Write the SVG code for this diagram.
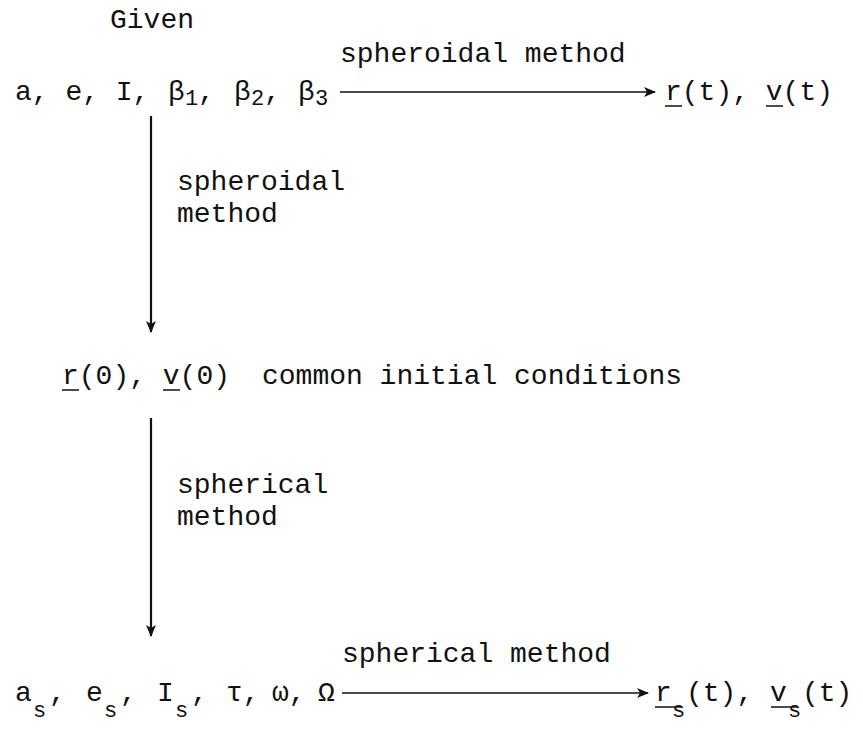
<svg xmlns="http://www.w3.org/2000/svg" width="863" height="730" viewBox="0 0 863 730">
<defs>
<style>
text{font-family:"Liberation Mono","Courier New",monospace;font-size:28px;fill:#111}
.sub{font-size:22px}
.v{stroke:#111;stroke-width:2.2;fill:none}
.h{stroke:#111;stroke-width:1.6;fill:none}
.ul{stroke:#111;stroke-width:1.5}
</style>
<marker id="ah" viewBox="0 0 12 10" markerWidth="12" markerHeight="10" refX="11" refY="5" orient="auto" markerUnits="userSpaceOnUse">
<path d="M0,0 L12,5 L0,10 L3,5 z" fill="#111"/>
</marker>
</defs>
<g id="connectors">
<line class="h" x1="340" y1="92" x2="655" y2="92" marker-end="url(#ah)"/>
<line class="v" x1="151" y1="116" x2="151" y2="332" marker-end="url(#ah)"/>
<line class="v" x1="151" y1="418" x2="151" y2="636" marker-end="url(#ah)"/>
<line class="h" x1="342" y1="693" x2="648" y2="693" marker-end="url(#ah)"/>
<text x="340" y="62">spheroidal method</text>
<text x="177" y="190">spheroidal</text>
<text x="177" y="222">method</text>
<text x="177" y="493">spherical</text>
<text x="177" y="525">method</text>
<text x="342" y="662">spherical method</text>
</g>
<g id="given"><text x="110" y="28">Given</text></g>
<g id="n-elements">
<text x="15" y="100">a, e, I,</text>
<text x="168" y="100">β</text>
<text class="sub" x="185" y="105">1</text>
<text x="198" y="100">,</text>
<text x="234" y="100">β</text>
<text class="sub" x="251" y="105">2</text>
<text x="264" y="100">,</text>
<text x="298" y="100">β</text>
<text class="sub" x="315" y="105">3</text>
</g>
<g id="n-rt">
<text x="665" y="100">r(t), v(t)</text>
<line class="ul" x1="665" y1="106" x2="682" y2="106"/>
<line class="ul" x1="766" y1="106" x2="783" y2="106"/>
</g>
<g id="n-r0">
<text x="62" y="384">r(0), v(0)</text>
<line class="ul" x1="62" y1="390" x2="79" y2="390"/>
<line class="ul" x1="163" y1="390" x2="180" y2="390"/>
<text x="262" y="384">common initial conditions</text>
</g>
<g id="n-spherical">
<text x="15" y="701">a</text>
<text class="sub" x="33" y="717">s</text>
<text x="49" y="701">,</text>
<text x="86" y="701">e</text>
<text class="sub" x="104" y="717">s</text>
<text x="120" y="701">,</text>
<text x="157" y="701">I</text>
<text class="sub" x="175" y="717">s</text>
<text x="191" y="701">,</text>
<text x="226" y="701">τ,</text>
<text x="272" y="701">ω,</text>
<text x="318" y="701">Ω</text>
</g>
<g id="n-rst">
<text x="655" y="701">r</text>
<text class="sub" x="672" y="717">s</text>
<text x="686" y="701">(t), v</text>
<text class="sub" x="788" y="717">s</text>
<text x="802" y="701">(t)</text>
<line class="ul" x1="655" y1="707" x2="682" y2="707"/>
<line class="ul" x1="771" y1="707" x2="798" y2="707"/>
</g>
</svg>
